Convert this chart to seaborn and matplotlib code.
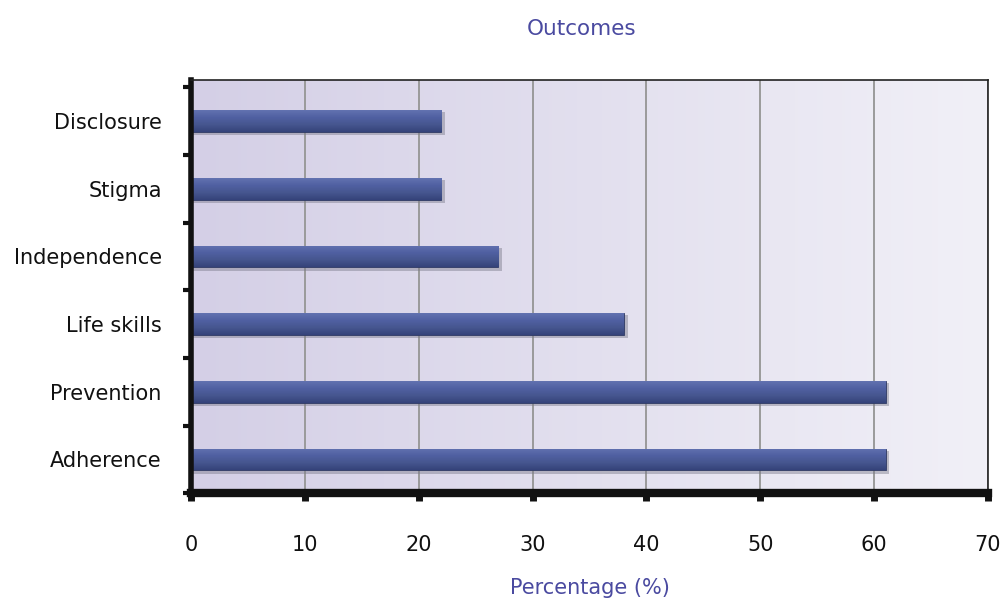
import numpy as np
import pandas as pd
import matplotlib
matplotlib.use("Agg")
import matplotlib.pyplot as plt
import seaborn as sns
from matplotlib.colors import LinearSegmentedColormap
from matplotlib.patches import Rectangle

categories = ["Disclosure", "Stigma", "Independence", "Life skills", "Prevention", "Adherence"]
percentages = [22, 22, 27, 38, 61, 61]
x_ticks = [0, 10, 20, 30, 40, 50, 60, 70]

df = pd.DataFrame({"Outcome": categories, "Percentage": percentages})

sns.set_theme(style="white")
plt.rcParams["font.family"] = ["DejaVu Sans"]

fig = plt.figure(figsize=(10.02, 6.0), dpi=100)
ax = fig.add_axes([0.1906, 0.178, 0.7954, 0.688])

sns.barplot(data=df, y="Outcome", x="Percentage", orient="h", color="#3f4f8a",
            width=0.32, ax=ax, zorder=3)

n = len(categories)
y_top, y_bottom = -0.6, n - 0.56
ax.set_xlim(0, 70)
ax.set_ylim(y_bottom, y_top)

# lavender background fading to the right
bg_cmap = LinearSegmentedColormap.from_list("bg", ["#d4cfe6", "#f1f0f7"])
ax.imshow(np.linspace(0, 1, 256)[None, :], cmap=bg_cmap, aspect="auto",
          extent=[0, 70, y_bottom, y_top], zorder=0)

# vertical gradient fill and soft shadow on every bar
bar_cmap = LinearSegmentedColormap.from_list(
    "bar", ["#6272b0", "#5060a2", "#46568f", "#35437a"])
for patch in list(ax.patches):
    x0, y0 = patch.get_x(), patch.get_y()
    w, h = patch.get_width(), patch.get_height()
    shadow = Rectangle((x0, y0 + 0.03), w + 0.35, h + 0.02, facecolor="#7a7a8a",
                       alpha=0.45, edgecolor="none", zorder=2)
    ax.add_patch(shadow)
    im = ax.imshow(np.linspace(0, 1, 64)[:, None], cmap=bar_cmap, aspect="auto",
                   extent=[x0, x0 + w, y0 + h, y0], zorder=4)
    im.set_clip_path(patch)
    patch.set_edgecolor("#2e3964")
    patch.set_linewidth(0.6)

ax.set_xticks(x_ticks)
ax.xaxis.grid(True, color="#9a9a9a", linewidth=1.4, zorder=1)
ax.set_axisbelow(True)
ax.set_ylabel("")
ax.set_xlabel("Percentage (%)", color="#4a4aa0", fontsize=15, labelpad=17)
ax.set_title("Outcomes", color="#4a4aa0", fontsize=15.5, pad=33, x=0.49)

# category boundaries as tick marks on the left axis
ax.set_yticks(np.arange(-0.5, n, 1.0), minor=True)
ax.tick_params(axis="y", which="major", length=0, pad=21, labelsize=15, colors="#111111")
ax.tick_params(axis="y", which="minor", left=True, length=6, width=3, color="#111111")
ax.tick_params(axis="x", which="major", bottom=True, length=6, width=5, color="#111111",
               pad=24, labelsize=15, labelcolor="#111111")

for side in ["top", "right"]:
    ax.spines[side].set_color("#222222")
    ax.spines[side].set_linewidth(1.2)
ax.spines["left"].set_color("#111111")
ax.spines["left"].set_linewidth(4)
ax.spines["bottom"].set_color("#111111")
ax.spines["bottom"].set_linewidth(6)
for sp in ax.spines.values():
    sp.set_zorder(6)

fig.savefig("out.png", dpi=100, facecolor="white")
